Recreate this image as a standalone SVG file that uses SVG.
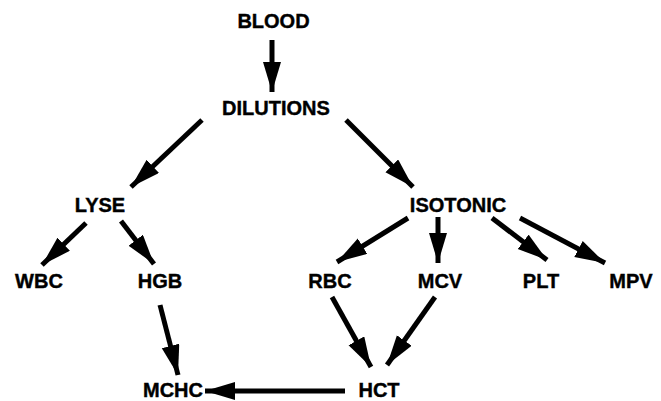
<svg xmlns="http://www.w3.org/2000/svg" width="661" height="401" viewBox="0 0 661 401">
<defs>
<marker id="ah" markerUnits="userSpaceOnUse" markerWidth="32" markerHeight="20" refX="30" refY="9" orient="auto" viewBox="0 0 32 20">
<path d="M0,0 L30,9 L0,18 Z" fill="#000"/>
</marker>
<style>
.t{font-family:"Liberation Sans",Arial,Helvetica,sans-serif;font-weight:bold;font-size:20px;fill:#000;stroke:#000;stroke-width:0.4;text-anchor:middle}
.c line{stroke:#000;stroke-width:5;marker-end:url(#ah)}
</style>
</defs>
<rect width="661" height="401" fill="#fff"/>
<g class="c" id="connectors">
<line x1="272" y1="40" x2="272" y2="92"/>
<line x1="202" y1="120" x2="131" y2="187"/>
<line x1="346" y1="120" x2="413" y2="187"/>
<line x1="86" y1="223" x2="42" y2="265"/>
<line x1="121" y1="221" x2="154" y2="264"/>
<line x1="408" y1="218" x2="337" y2="262"/>
<line x1="438" y1="217" x2="438" y2="263"/>
<line x1="492" y1="218" x2="547" y2="260"/>
<line x1="520" y1="218" x2="605" y2="263"/>
<line x1="160" y1="305" x2="178" y2="375"/>
<line x1="332" y1="297" x2="371" y2="367"/>
<line x1="435" y1="297" x2="387" y2="365"/>
<line x1="345" y1="391" x2="205" y2="391"/>
</g>
<g id="blood"><text class="t" x="273.5" y="28">BLOOD</text></g>
<g id="dilutions"><text class="t" x="276" y="115">DILUTIONS</text></g>
<g id="lyse"><text class="t" x="100" y="212">LYSE</text></g>
<g id="isotonic"><text class="t" x="458" y="212">ISOTONIC</text></g>
<g id="wbc"><text class="t" x="39" y="288">WBC</text></g>
<g id="hgb"><text class="t" x="160" y="288">HGB</text></g>
<g id="rbc"><text class="t" x="330" y="288">RBC</text></g>
<g id="mcv"><text class="t" x="440" y="288">MCV</text></g>
<g id="plt"><text class="t" x="541" y="288">PLT</text></g>
<g id="mpv"><text class="t" x="631" y="288">MPV</text></g>
<g id="mchc"><text class="t" x="173" y="397">MCHC</text></g>
<g id="hct"><text class="t" x="379" y="397">HCT</text></g>
</svg>
